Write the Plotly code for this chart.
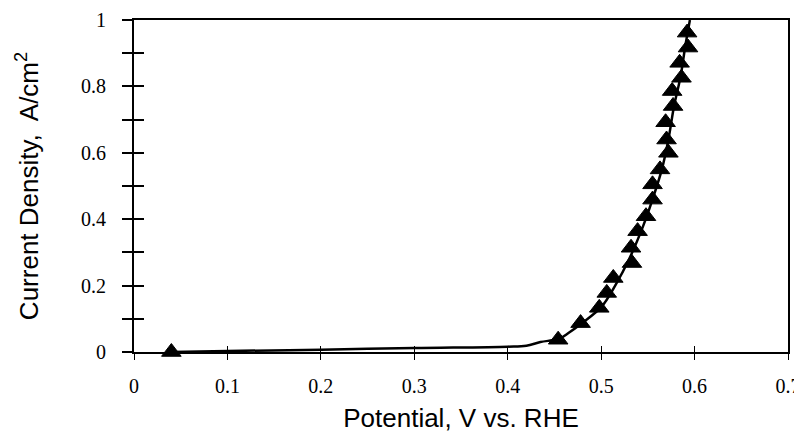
import plotly.graph_objects as go

# Marker data (triangles)
pot_markers = [0.040, 0.454, 0.478, 0.498, 0.506, 0.513, 0.533, 0.532, 0.539, 0.548,
               0.555, 0.555, 0.563, 0.572, 0.570, 0.569, 0.577, 0.576, 0.586, 0.584,
               0.593, 0.592]
cur_markers = [0.000, 0.037, 0.087, 0.133, 0.178, 0.223, 0.268, 0.314, 0.364, 0.409,
               0.459, 0.505, 0.550, 0.600, 0.640, 0.692, 0.741, 0.786, 0.826, 0.871,
               0.917, 0.962]

# Continuous polarisation curve
pot_line = [0.040, 0.100, 0.200, 0.300, 0.400, 0.420, 0.435, 0.455, 0.465, 0.480,
            0.500, 0.515, 0.530, 0.545, 0.555, 0.565, 0.572, 0.578, 0.585, 0.590, 0.595]
cur_line = [0.000, 0.003, 0.007, 0.012, 0.016, 0.019, 0.030, 0.040, 0.057, 0.088,
            0.135, 0.200, 0.280, 0.380, 0.460, 0.550, 0.640, 0.740, 0.830, 0.920, 1.000]

x_ticks = [0, 0.1, 0.2, 0.3, 0.4, 0.5, 0.6, 0.7]
x_labels = ["0", "0.1", "0.2", "0.3", "0.4", "0.5", "0.6", "0.7"]
y_ticks = [0, 0.1, 0.2, 0.3, 0.4, 0.5, 0.6, 0.7, 0.8, 0.9, 1.0]
y_labels = ["0", "", "0.2", "", "0.4", "", "0.6", "", "0.8", "", "1"]

tick_font = dict(family="Liberation Serif", size=20, color="black")
title_font = dict(family="Liberation Sans", size=26, color="black")

fig = go.Figure()
fig.add_trace(go.Scatter(x=pot_line, y=cur_line, mode="lines",
                         line=dict(color="black", width=2.5, shape="spline"),
                         showlegend=False, hoverinfo="skip"))
fig.add_trace(go.Scatter(x=pot_markers, y=cur_markers, mode="markers",
                         marker=dict(symbol="triangle-up", size=17, color="black",
                                     line=dict(color="black", width=1)),
                         showlegend=False, cliponaxis=False))
# dummy trace to activate overlay axes used for inside ticks
fig.add_trace(go.Scatter(x=[None], y=[None], xaxis="x2", yaxis="y2",
                         showlegend=False, hoverinfo="skip"))

fig.update_layout(
    width=794, height=433,
    margin=dict(l=134, r=6, t=20, b=81, autoexpand=False),
    paper_bgcolor="white", plot_bgcolor="white",
    xaxis=dict(range=[0, 0.7], tickvals=x_ticks, ticktext=x_labels, automargin=False,
               ticks="outside", ticklen=6, tickwidth=1.2, tickcolor="black",
               showline=True, linecolor="black", linewidth=2, mirror=True,
               showgrid=False, zeroline=False, tickfont=tick_font,
               ticklabelstandoff=9, ticklabeloverflow="allow",
               title=dict(text="Potential, V vs. RHE", font=title_font, standoff=19)),
    yaxis=dict(range=[0, 1], tickvals=y_ticks, ticktext=y_labels, automargin=False,
               ticks="outside", ticklen=10, tickwidth=2, tickcolor="black",
               showline=True, linecolor="black", linewidth=2, mirror=True,
               showgrid=False, zeroline=False, tickfont=tick_font,
               ticklabelstandoff=12, ticklabeloverflow="allow",
               title=dict(text="Current Density,&nbsp; A/cm<sup>2</sup>", font=title_font, standoff=35)),
    xaxis2=dict(range=[0, 0.7], overlaying="x", anchor="y2", side="bottom", automargin=False,
                tickvals=x_ticks, ticks="inside", ticklen=6, tickwidth=1.2,
                tickcolor="black", showticklabels=False, showline=False,
                showgrid=False, zeroline=False),
    yaxis2=dict(range=[0, 1], overlaying="y", anchor="x2", side="left", automargin=False,
                tickvals=y_ticks, ticks="inside", ticklen=10, tickwidth=2,
                tickcolor="black", showticklabels=False, showline=False,
                showgrid=False, zeroline=False),
)

fig.write_html("out.html", config={"displayModeBar": False},
               post_script="document.body.style.margin='0';")
